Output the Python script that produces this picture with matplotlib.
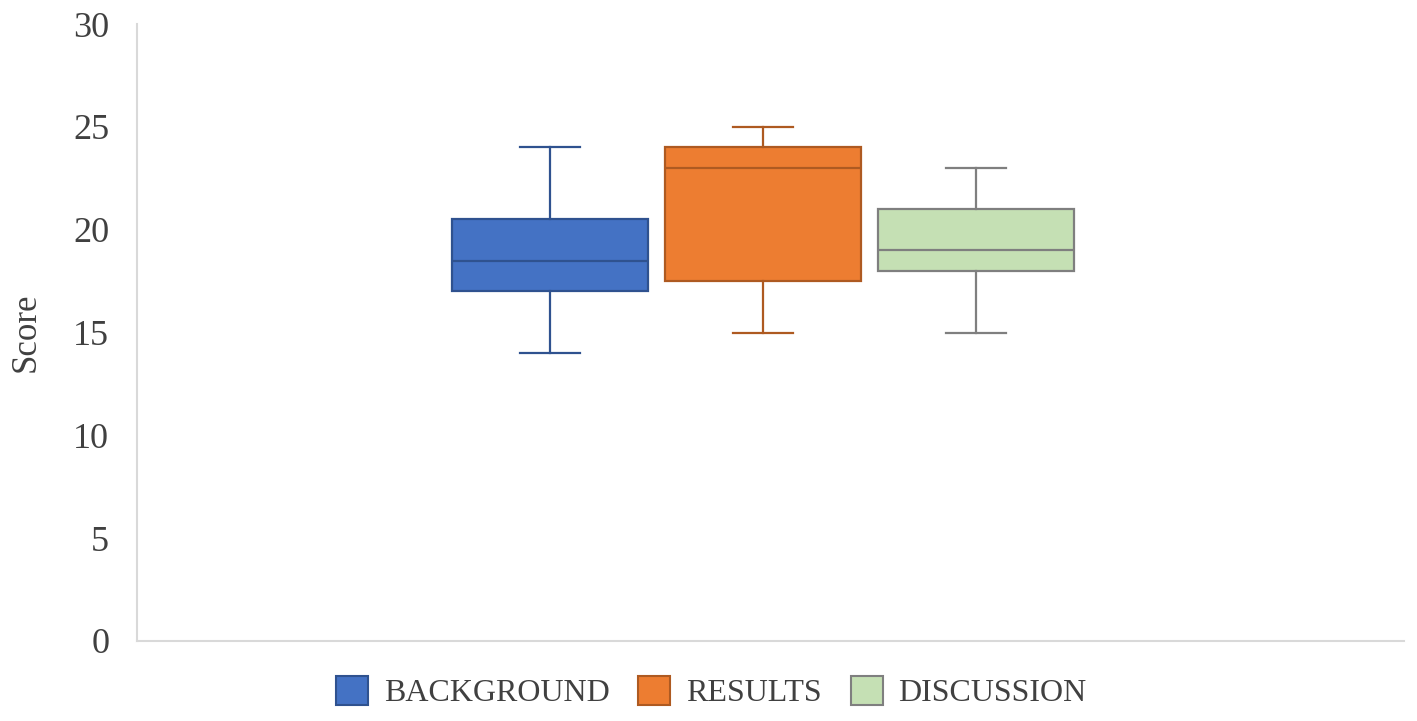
import numpy as np
import matplotlib.pyplot as plt
from matplotlib.patches import Patch

# box plot summary values
groups = ['BACKGROUND', 'RESULTS', 'DISCUSSION']
whis_low = [14, 15, 15]
q1 = [17, 17.5, 18]
median = [18.5, 23, 19]
q3 = [20.5, 24, 21]
whis_high = [24, 25, 23]

fills = ['#4472C4', '#ED7D31', '#C5E0B4']
edges = ['#2F528F', '#AE5A21', '#7F7F7F']

plt.rcParams['font.family'] = ['Liberation Serif', 'DejaVu Serif']

fig = plt.figure(figsize=(14.17, 7.21), dpi=100)
ax = fig.add_axes([0.0967, 0.111, 0.8941, 0.8556])

positions = [1, 2, 3]
for i in range(len(groups)):
    st = [{'whislo': whis_low[i], 'q1': q1[i], 'med': median[i], 'q3': q3[i],
           'whishi': whis_high[i], 'fliers': [], 'label': groups[i]}]
    lw = 1.6
    ax.bxp(st, positions=[positions[i]], widths=0.92, capwidths=0.28,
           patch_artist=True, showfliers=False, manage_ticks=False,
           boxprops=dict(facecolor=fills[i], edgecolor=edges[i], linewidth=lw),
           medianprops=dict(color=edges[i], linewidth=lw),
           whiskerprops=dict(color=edges[i], linewidth=lw),
           capprops=dict(color=edges[i], linewidth=lw))

ax.set_xlim(-0.939, 5.009)
ax.set_ylim(0, 30)
ax.set_yticks(np.arange(0, 31, 5))
ax.set_xticks([])
ax.tick_params(axis='y', length=0, pad=20, labelsize=26, labelcolor='#404040')
for s in ['top', 'right']:
    ax.spines[s].set_visible(False)
for s in ['left', 'bottom']:
    ax.spines[s].set_color('#D9D9D9')
    ax.spines[s].set_linewidth(1.5)
ax.set_ylabel('Score', fontsize=25, color='#404040', labelpad=22)

handles = [Patch(facecolor=fills[i], edgecolor=edges[i], linewidth=1.5) for i in range(len(groups))]
fig.legend(handles, groups, loc='center', bbox_to_anchor=(0.502, 0.04), ncol=3,
           frameon=False, fontsize=23, labelcolor='#404040',
           handlelength=1.0, handleheight=1.0, handletextpad=0.5, columnspacing=0.9)

fig.savefig('out.png', dpi=100)
